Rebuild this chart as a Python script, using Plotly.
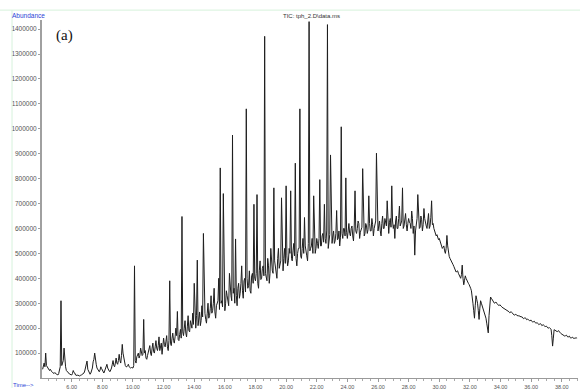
import plotly.graph_objects as go

# ---- data (retention time in minutes, abundance in thousands of counts) ----
rt_early = [4.1, 4.2, 4.3, 4.4, 4.5, 4.6, 4.7, 4.8, 4.9,
            5.0, 5.1, 5.2, 5.3, 5.4, 5.5, 5.6, 5.7, 5.8, 5.9,
            6.0, 6.1, 6.2, 6.3, 6.4, 6.5, 6.6, 6.7, 6.8, 6.9,
            7.0, 7.1, 7.2, 7.3, 7.4, 7.5, 7.6, 7.7, 7.8, 7.9,
            8.0, 8.1, 8.2, 8.3, 8.4, 8.5, 8.6, 8.7, 8.8, 8.9,
            9.0, 9.1, 9.2, 9.3, 9.4, 9.5, 9.6, 9.7, 9.8, 9.9]
abund_early_k = [35, 60, 100, 45, 30, 35, 25, 20, 22,
                 15, 12, 40, 310, 60, 120, 45, 25, 20, 15,
                 12, 30, 20, 10, 12, 8, 10, 15, 20, 40,
                 68, 25, 15, 30, 65, 100, 55, 35, 25, 45,
                 30, 20, 35, 55, 30, 25, 40, 70, 45, 80,
                 55, 95, 60, 135, 85, 50, 45, 55, 40, 42]

rt_early_b = [4.15, 4.25, 4.35, 4.45, 4.55, 4.65, 4.75, 4.85, 4.95,
              5.05, 5.15, 5.25, 5.35, 5.45, 5.55, 5.65, 5.75, 5.85, 5.95,
              6.05, 6.15, 6.25, 6.35, 6.45, 6.55, 6.65, 6.75, 6.85, 6.95,
              7.05, 7.15, 7.25, 7.35, 7.45, 7.55, 7.65, 7.75, 7.85, 7.95,
              8.05, 8.15, 8.25, 8.35, 8.45, 8.55, 8.65, 8.75, 8.85, 8.95,
              9.05, 9.15, 9.25, 9.35, 9.45, 9.55, 9.65, 9.75, 9.85, 9.95]
abund_early_b_k = [45, 45, 50, 35, 30, 28, 22, 18, 16,
                   14, 18, 45, 50, 70, 50, 30, 22, 16, 12,
                   18, 22, 12, 10, 9, 11, 13, 18, 28, 45,
                   35, 18, 20, 40, 75, 65, 40, 28, 32, 38,
                   22, 28, 45, 40, 28, 32, 55, 50, 60, 60,
                   70, 70, 90, 100, 60, 45, 50, 45, 40, 42]

rt_mid = [10.0, 10.1, 10.2, 10.3, 10.4, 10.5, 10.6, 10.7, 10.8, 10.9,
          11.0, 11.1, 11.2, 11.3, 11.4, 11.5, 11.6, 11.7, 11.8, 11.9,
          12.0, 12.1, 12.2, 12.3, 12.4, 12.5, 12.6, 12.7, 12.8, 12.9,
          13.0, 13.1, 13.2, 13.3, 13.4, 13.5, 13.6, 13.7, 13.8, 13.9,
          14.0, 14.1, 14.2, 14.3, 14.4, 14.5, 14.6, 14.7, 14.8, 14.9,
          15.0, 15.1, 15.2, 15.3, 15.4, 15.5, 15.6, 15.7, 15.8, 15.9,
          16.0, 16.1, 16.2, 16.3, 16.4, 16.5, 16.6, 16.7, 16.8, 16.9,
          17.0, 17.1, 17.2, 17.3, 17.4, 17.5, 17.6, 17.7, 17.8, 17.9,
          18.0, 18.1, 18.2, 18.3, 18.4, 18.5, 18.6, 18.7, 18.8, 18.9,
          19.0, 19.1, 19.2, 19.3, 19.4, 19.5, 19.6, 19.7, 19.8, 19.9,
          20.0, 20.1, 20.2, 20.3, 20.4, 20.5, 20.6, 20.7, 20.8, 20.9,
          21.0, 21.1, 21.2, 21.3, 21.4, 21.5, 21.6, 21.7, 21.8, 21.9,
          22.0, 22.1, 22.2, 22.3, 22.4, 22.5, 22.6, 22.7, 22.8, 22.9,
          23.0, 23.1, 23.2, 23.3, 23.4, 23.5, 23.6, 23.7, 23.8, 23.9,
          24.0, 24.1, 24.2, 24.3, 24.4, 24.5, 24.6, 24.7, 24.8, 24.9,
          25.0, 25.1, 25.2, 25.3, 25.4, 25.5, 25.6, 25.7, 25.8, 25.9,
          26.0, 26.1, 26.2, 26.3, 26.4, 26.5, 26.6, 26.7, 26.8, 26.9,
          27.0, 27.1, 27.2, 27.3, 27.4, 27.5, 27.6, 27.7, 27.8, 27.9,
          28.0, 28.1, 28.2, 28.3, 28.4, 28.5, 28.6, 28.7, 28.8, 28.9,
          29.0, 29.1, 29.2, 29.3, 29.4, 29.5, 29.6, 29.7, 29.8, 29.9]
abund_mid_k = [40, 450, 60, 95, 80, 120, 90, 235, 110, 75,
               105, 130, 90, 140, 100, 150, 110, 165, 120, 95,
               160, 125, 170, 110, 390, 130, 180, 140, 200, 267,
               150, 195, 648, 170, 230, 165, 250, 185, 220, 260,
               380, 200, 473, 240, 210, 290, 580, 260, 220, 300,
               250, 330, 270, 360, 240, 300, 400, 843, 310, 740,
               270, 350, 300, 420, 330, 975, 360, 558, 290, 380,
               340, 450, 320, 400, 1080, 360, 430, 340, 420, 697,
               390, 736, 360, 470, 400, 450, 1371, 410, 480, 380,
               520, 430, 763, 440, 400, 520, 460, 723, 430, 520,
               771, 450, 520, 751, 470, 540, 862, 450, 520, 1080,
               480, 560, 644, 500, 470, 1430, 520, 560, 731, 500,
               560, 520, 796, 530, 580, 697, 540, 1418, 560, 895,
               540, 590, 550, 672, 560, 530, 1008, 560, 600, 803,
               560, 620, 570, 610, 550, 751, 580, 630, 560, 600,
               840, 570, 620, 580, 731, 590, 640, 570, 610, 902,
               590, 630, 570, 650, 600, 620, 711, 580, 640, 771,
               600, 560, 650, 600, 690, 620, 763, 610, 660, 590,
               640, 620, 670, 580, 493, 620, 736, 600, 650, 590,
               680, 620, 600, 660, 610, 711, 620, 590, 570, 560]

rt_mid_b = [10.05, 10.15, 10.25, 10.35, 10.45, 10.55, 10.65, 10.75, 10.85, 10.95,
            11.05, 11.15, 11.25, 11.35, 11.45, 11.55, 11.65, 11.75, 11.85, 11.95,
            12.05, 12.15, 12.25, 12.35, 12.45, 12.55, 12.65, 12.75, 12.85, 12.95,
            13.05, 13.15, 13.25, 13.35, 13.45, 13.55, 13.65, 13.75, 13.85, 13.95,
            14.05, 14.15, 14.25, 14.35, 14.45, 14.55, 14.65, 14.75, 14.85, 14.95,
            15.05, 15.15, 15.25, 15.35, 15.45, 15.55, 15.65, 15.75, 15.85, 15.95,
            16.05, 16.15, 16.25, 16.35, 16.45, 16.55, 16.65, 16.75, 16.85, 16.95,
            17.05, 17.15, 17.25, 17.35, 17.45, 17.55, 17.65, 17.75, 17.85, 17.95,
            18.05, 18.15, 18.25, 18.35, 18.45, 18.55, 18.65, 18.75, 18.85, 18.95,
            19.05, 19.15, 19.25, 19.35, 19.45, 19.55, 19.65, 19.75, 19.85, 19.95,
            20.05, 20.15, 20.25, 20.35, 20.45, 20.55, 20.65, 20.75, 20.85, 20.95,
            21.05, 21.15, 21.25, 21.35, 21.45, 21.55, 21.65, 21.75, 21.85, 21.95,
            22.05, 22.15, 22.25, 22.35, 22.45, 22.55, 22.65, 22.75, 22.85, 22.95,
            23.05, 23.15, 23.25, 23.35, 23.45, 23.55, 23.65, 23.75, 23.85, 23.95,
            24.05, 24.15, 24.25, 24.35, 24.45, 24.55, 24.65, 24.75, 24.85, 24.95,
            25.05, 25.15, 25.25, 25.35, 25.45, 25.55, 25.65, 25.75, 25.85, 25.95,
            26.05, 26.15, 26.25, 26.35, 26.45, 26.55, 26.65, 26.75, 26.85, 26.95,
            27.05, 27.15, 27.25, 27.35, 27.45, 27.55, 27.65, 27.75, 27.85, 27.95,
            28.05, 28.15, 28.25, 28.35, 28.45, 28.55, 28.65, 28.75, 28.85, 28.95,
            29.05, 29.15, 29.25, 29.35, 29.45, 29.55, 29.65, 29.75, 29.85, 29.95]
abund_mid_b_k = [50, 70, 85, 100, 90, 105, 95, 100, 80, 90,
                 115, 100, 120, 105, 125, 120, 130, 110, 140, 120,
                 135, 145, 125, 150, 140, 160, 150, 165, 170, 155,
                 175, 160, 185, 200, 180, 205, 190, 230, 200, 215,
                 220, 250, 210, 265, 230, 245, 270, 235, 260, 240,
                 280, 260, 300, 265, 290, 310, 275, 300, 285, 320,
                 300, 330, 290, 350, 310, 340, 300, 330, 360, 320,
                 380, 350, 390, 345, 400, 370, 350, 410, 380, 400,
                 420, 380, 430, 395, 440, 410, 420, 390, 450, 420,
                 460, 420, 470, 430, 480, 440, 470, 450, 480, 460,
                 490, 470, 500, 480, 510, 490, 480, 500, 520, 490,
                 520, 500, 530, 490, 540, 510, 530, 500, 540, 520,
                 540, 560, 530, 570, 545, 560, 590, 520, 575, 550,
                 570, 540, 580, 555, 590, 565, 580, 600, 570, 585,
                 590, 580, 600, 570, 610, 590, 600, 620, 585, 605,
                 600, 580, 610, 595, 620, 590, 615, 600, 630, 605,
                 610, 590, 620, 600, 640, 610, 590, 625, 605, 630,
                 615, 630, 600, 640, 610, 630, 600, 640, 615, 620,
                 625, 600, 640, 610, 590, 640, 620, 605, 635, 615,
                 640, 610, 630, 600, 645, 615, 600, 580, 575, 555]

rt_late = [30.0, 30.1, 30.2, 30.3, 30.4, 30.5, 30.6, 30.7, 30.8, 30.9,
           31.0, 31.1, 31.2, 31.3, 31.4, 31.5, 31.6, 31.7, 31.8, 31.9,
           32.0, 32.1, 32.2, 32.3, 32.4, 32.5, 32.6, 32.7, 32.8, 32.9,
           33.0, 33.1, 33.2, 33.3, 33.4, 33.5, 33.6, 33.7, 33.8, 33.9,
           34.0, 34.1, 34.2, 34.3, 34.4, 34.5, 34.6, 34.7, 34.8, 34.9,
           35.0, 35.1, 35.2, 35.3, 35.4, 35.5, 35.6, 35.7, 35.8, 35.9,
           36.0, 36.1, 36.2, 36.3, 36.4, 36.5, 36.6, 36.7, 36.8, 36.9,
           37.0, 37.1, 37.2, 37.3, 37.4, 37.5, 37.6, 37.7, 37.8, 37.9,
           38.0, 38.1, 38.2, 38.3, 38.4, 38.5, 38.6, 38.7, 38.8, 38.9,
           39.0]
abund_late_k = [560, 540, 520, 530, 500, 572, 495, 480, 470, 455,
                440, 425, 430, 410, 400, 453, 374, 410, 390, 380,
                370, 350, 300, 240, 330, 300, 235, 310, 290, 280,
                250, 220, 181, 315, 320, 310, 300, 305, 295, 290,
                292, 284, 280, 276, 272, 270, 262, 266, 258, 252,
                256, 248, 250, 244, 246, 238, 242, 234, 236, 230,
                232, 224, 228, 220, 222, 214, 218, 210, 214, 206,
                208, 200, 202, 196, 128, 194, 190, 186, 190, 180,
                176, 172, 168, 172, 164, 168, 160, 164, 158, 162,
                160]

rt_late_b = [30.05, 30.15, 30.25, 30.35, 30.45, 30.55, 30.65, 30.75, 30.85, 30.95,
             31.05, 31.15, 31.25, 31.35, 31.45, 31.55, 31.65, 31.75, 31.85, 31.95,
             32.05, 32.15, 32.25, 32.35, 32.45, 32.55, 32.65, 32.75, 32.85, 32.95,
             33.05, 33.15, 33.25, 33.35, 33.45, 33.55, 33.65, 33.75, 33.85, 33.95,
             34.05, 34.15, 34.25, 34.35, 34.45, 34.55, 34.65, 34.75, 34.85, 34.95,
             35.05, 35.15, 35.25, 35.35, 35.45, 35.55, 35.65, 35.75, 35.85, 35.95,
             36.05, 36.15, 36.25, 36.35, 36.45, 36.55, 36.65, 36.75, 36.85, 36.95,
             37.05, 37.15, 37.25, 37.35, 37.45, 37.55, 37.65, 37.75, 37.85, 37.95,
             38.05, 38.15, 38.25, 38.35, 38.45, 38.55, 38.65, 38.75, 38.85, 38.95]
abund_late_b_k = [550, 525, 525, 510, 520, 530, 488, 475, 462, 448,
                  432, 428, 420, 405, 415, 400, 392, 400, 385, 375,
                  360, 330, 270, 290, 315, 270, 280, 300, 285, 265,
                  240, 205, 250, 325, 315, 305, 302, 300, 292, 294,
                  288, 282, 278, 274, 270, 266, 264, 262, 255, 254,
                  252, 249, 247, 245, 242, 240, 240, 236, 233, 231,
                  228, 226, 224, 221, 218, 216, 216, 212, 210, 207,
                  204, 201, 199, 170, 160, 192, 188, 188, 185, 178,
                  174, 170, 170, 168, 166, 162, 162, 160, 160, 161]

x_tick_vals = [6, 8, 10, 12, 14, 16, 18, 20, 22, 24, 26, 28, 30, 32, 34, 36, 38]
y_tick_vals = [100000, 200000, 300000, 400000, 500000, 600000, 700000,
               800000, 900000, 1000000, 1100000, 1200000, 1300000, 1400000]

pairs = sorted(zip(rt_early + rt_early_b + rt_mid + rt_mid_b + rt_late + rt_late_b,
                   abund_early_k + abund_early_b_k + abund_mid_k + abund_mid_b_k
                   + abund_late_k + abund_late_b_k))
rt = [p[0] for p in pairs]
abundance = [p[1] * 1000 for p in pairs]

fig = go.Figure()
fig.add_trace(go.Scatter(
    x=rt, y=abundance, mode="lines",
    line=dict(color="#1e1e1e", width=1),
    hoverinfo="skip", showlegend=False,
))

W, H = 580, 392
L, R, T, B = 42, 2, 20, 10

fig.update_layout(
    width=W, height=H,
    margin=dict(l=L, r=R, t=T, b=B, pad=0),
    paper_bgcolor="white", plot_bgcolor="white",
    font=dict(family="Liberation Sans, Arial, sans-serif", size=6, color="#444"),
    showlegend=False,
    xaxis=dict(
        range=[4.06, 39.06], showgrid=False, zeroline=False,
        showline=True, linecolor="#9a9a9a", linewidth=1,
        tickmode="array", tickvals=x_tick_vals,
        ticktext=[f"{v:.2f}" for v in x_tick_vals],
        ticks="outside", ticklen=3, tickcolor="#9a9a9a", tickwidth=1,
        tickfont=dict(size=5.5, color="#555"),
        minor=dict(dtick=0.5, tick0=0, ticks="outside", ticklen=2, tickcolor="#aaa"),
    ),
    yaxis=dict(
        range=[0, 1436500], showgrid=False, zeroline=False,
        showline=True, linecolor="#a0a0a0", linewidth=2,
        tickmode="array", tickvals=y_tick_vals,
        ticktext=[str(v) for v in y_tick_vals],
        ticks="outside", ticklen=2, tickcolor="#a0a0a0",
        tickfont=dict(size=6.5, color="#555"),
    ),
)

# faint green window border (top and left)
fig.add_shape(type="line", xref="paper", yref="paper",
              x0=(0 - L) / (W - L - R), x1=1.0 + R / (W - L - R),
              y0=(H - B - 10) / (H - T - B), y1=(H - B - 10) / (H - T - B),
              line=dict(color="#d6f2dc", width=1))
fig.add_shape(type="line", xref="paper", yref="paper",
              x0=(12 - L) / (W - L - R), x1=(12 - L) / (W - L - R),
              y0=(H - B - 392) / (H - T - B), y1=(H - B - 10) / (H - T - B),
              line=dict(color="#d6f2dc", width=1))

fig.add_annotation(text="Abundance", xref="paper", yref="paper",
                   x=(10 - L) / (W - L - R), y=(H - B - 15) / (H - T - B),
                   xanchor="left", yanchor="middle", showarrow=False,
                   font=dict(size=6.5, color="#2b3fd6"))
fig.add_annotation(text="Time-->", xref="paper", yref="paper",
                   x=(11 - L) / (W - L - R), y=(H - B - 389) / (H - T - B),
                   xanchor="left", yanchor="middle", showarrow=False,
                   font=dict(size=6, color="#2b3fd6"))
fig.add_annotation(text="TIC: tph_2.D\\data.ms", xref="paper", yref="paper",
                   x=(311 - L) / (W - L - R), y=(H - B - 16) / (H - T - B),
                   xanchor="center", yanchor="middle", showarrow=False,
                   font=dict(size=6, color="#333"))
fig.add_annotation(text="(a)", xref="paper", yref="paper",
                   x=(54 - L) / (W - L - R), y=(H - B - 36) / (H - T - B),
                   xanchor="left", yanchor="middle", showarrow=False,
                   font=dict(family="Liberation Serif, Times New Roman, serif",
                             size=15, color="#111"))

fig.write_html("out.html")
